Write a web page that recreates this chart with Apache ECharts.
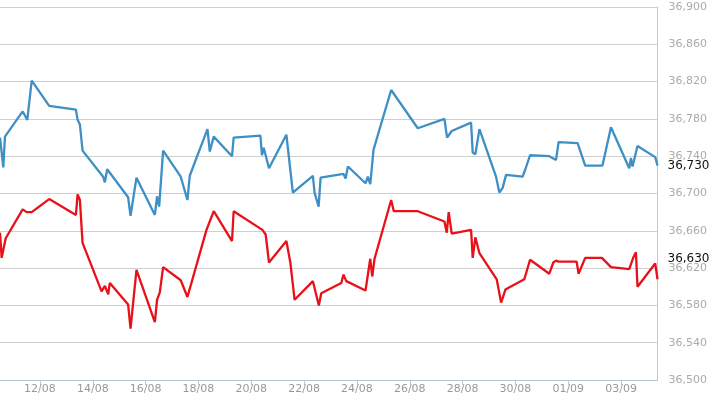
<!DOCTYPE html>
<html>
<head>
<meta charset="utf-8">
<script src="https://cdn.jsdelivr.net/npm/echarts@6/dist/echarts.min.js"></script>
<style>
  html, body { margin: 0; padding: 0; background: #fff; }
  #main { width: 710px; height: 399px; }
</style>
</head>
<body>
<div id="main"></div>
<script>
var YEAR = '2014-';

// tick dates on the time axis
var tickDays = ['08-10', '08-12', '08-14', '08-16', '08-18', '08-20', '08-22', '08-24',
    '08-26', '08-28', '08-30', '09-01', '09-03'];

// upper (blue) series
var blueSeries = [
    ['08-10 11:42', 36760], ['08-10 14:42', 36728], ['08-10 16:12', 36761], ['08-11 08:18', 36788],
    ['08-11 12:30', 36779], ['08-11 16:30', 36821], ['08-12 08:24', 36794], ['08-13 08:40', 36790],
    ['08-13 10:12', 36779], ['08-13 12:18', 36774], ['08-13 14:42', 36746], ['08-14 09:24', 36718],
    ['08-14 11:00', 36712], ['08-14 13:06', 36726], ['08-15 08:06', 36696], ['08-15 10:18', 36676],
    ['08-15 15:42', 36717], ['08-16 08:24', 36677], ['08-16 10:24', 36697], ['08-16 12:18', 36686],
    ['08-16 15:54', 36746], ['08-17 07:54', 36718], ['08-17 14:00', 36693], ['08-17 16:06', 36719],
    ['08-18 08:12', 36769], ['08-18 10:18', 36745], ['08-18 13:54', 36761], ['08-19 06:30', 36740],
    ['08-19 08:00', 36760], ['08-20 08:18', 36762], ['08-20 09:42', 36741], ['08-20 11:18', 36749],
    ['08-20 16:06', 36727], ['08-21 07:54', 36763], ['08-21 13:48', 36701], ['08-22 08:00', 36719],
    ['08-22 09:30', 36701], ['08-22 13:12', 36686], ['08-22 15:00', 36717], ['08-23 11:48', 36721],
    ['08-23 13:42', 36716], ['08-23 15:48', 36729], ['08-24 07:48', 36711], ['08-24 09:54', 36718],
    ['08-24 12:06', 36710], ['08-24 15:06', 36747], ['08-25 07:06', 36811], ['08-26 07:18', 36770],
    ['08-27 07:30', 36780], ['08-27 09:54', 36760], ['08-27 14:06', 36767], ['08-28 07:42', 36776],
    ['08-28 09:12', 36744], ['08-28 11:36', 36742], ['08-28 15:18', 36769], ['08-29 06:24', 36718],
    ['08-29 09:24', 36701], ['08-29 12:24', 36706], ['08-29 15:30', 36720], ['08-30 06:36', 36718],
    ['08-30 09:00', 36726], ['08-30 13:18', 36741], ['08-31 06:48', 36740], ['08-31 12:54', 36736],
    ['08-31 15:12', 36755], ['09-01 08:30', 36754], ['09-01 15:24', 36730], ['09-02 07:06', 36730],
    ['09-02 14:48', 36771], ['09-03 07:24', 36727], ['09-03 08:54', 36738], ['09-03 10:24', 36729],
    ['09-03 14:54', 36751], ['09-04 07:00', 36739], ['09-04 09:06', 36730]
];

// lower (red) series
var redSeries = [
    ['08-10 11:42', 36658], ['08-10 13:12', 36631], ['08-10 14:42', 36629], ['08-10 16:54', 36652],
    ['08-11 08:18', 36683], ['08-11 11:54', 36680], ['08-11 16:30', 36680], ['08-12 08:24', 36694],
    ['08-13 08:40', 36677], ['08-13 10:12', 36699], ['08-13 12:18', 36693], ['08-13 14:42', 36647],
    ['08-14 08:00', 36595], ['08-14 11:00', 36601], ['08-14 14:00', 36592], ['08-14 15:30', 36604],
    ['08-15 08:06', 36581], ['08-15 10:18', 36555], ['08-15 15:42', 36618], ['08-16 08:24', 36562],
    ['08-16 10:24', 36586], ['08-16 12:54', 36594], ['08-16 15:54', 36621], ['08-17 07:54', 36607],
    ['08-17 14:00', 36589], ['08-18 07:18', 36661], ['08-18 13:54', 36681], ['08-19 06:30', 36649],
    ['08-19 08:00', 36681], ['08-20 10:06', 36661], ['08-20 13:06', 36656], ['08-20 16:06', 36626],
    ['08-21 07:54', 36649], ['08-21 11:30', 36626], ['08-21 15:24', 36586], ['08-22 08:00', 36606],
    ['08-22 13:24', 36580], ['08-22 15:36', 36593], ['08-23 09:48', 36604], ['08-23 11:48', 36613],
    ['08-23 14:18', 36606], ['08-24 07:48', 36596], ['08-24 12:06', 36630], ['08-24 13:54', 36611],
    ['08-24 16:00', 36630], ['08-25 07:06', 36693], ['08-25 09:30', 36681], ['08-26 07:18', 36681],
    ['08-27 07:30', 36670], ['08-27 09:36', 36658], ['08-27 11:24', 36680], ['08-27 14:06', 36657],
    ['08-28 07:42', 36661], ['08-28 09:12', 36631], ['08-28 11:36', 36653], ['08-28 15:18', 36636],
    ['08-29 07:00', 36608], ['08-29 11:00', 36583], ['08-29 14:54', 36597], ['08-30 08:06', 36608],
    ['08-30 13:18', 36629], ['08-31 06:48', 36614], ['08-31 10:24', 36626], ['08-31 12:54', 36628],
    ['08-31 15:12', 36627], ['09-01 07:36', 36627], ['09-01 09:24', 36614], ['09-01 15:24', 36631],
    ['09-02 06:36', 36631], ['09-02 14:48', 36621], ['09-03 07:24', 36619], ['09-03 11:00', 36631],
    ['09-03 13:30', 36637], ['09-03 14:54', 36600], ['09-04 07:00', 36625], ['09-04 09:06', 36608]
];

// last prices shown on the right axis
var lastPrices = [36730, 36630];
var lineColors = ['#3d8fc6', '#e8111a'];

var xMin = '08-10 11:42';
var xMax = '09-04 09:06';

function toTime(s) {
    return echarts.number.parseDate(YEAR + s).getTime();
}
function fmt(v) {
    return String(Math.round(v)).replace(/\B(?=(\d{3})+(?!\d))/g, ',');
}

var chartDom = document.getElementById('main');
var myChart = echarts.init(chartDom, null, { renderer: 'canvas' });
var tickValues = tickDays.map(toTime);
var FONT = 'DejaVu Sans, Verdana, sans-serif';

function makeSeries(data, idx) {
    return {
        type: 'line',
        data: data.map(function (p) { return [toTime(p[0]), p[1]]; }),
        showSymbol: false,
        symbol: 'none',
        animation: false,
        clip: false,
        lineStyle: { color: lineColors[idx], width: 2.3 },
        itemStyle: { color: lineColors[idx] },
        markLine: {
            silent: true,
            symbol: 'none',
            animation: false,
            lineStyle: { color: 'transparent', width: 0 },
            label: {
                show: true,
                position: 'end',
                distance: 10,
                color: '#111',
                fontSize: 12,
                fontFamily: FONT,
                formatter: function () { return fmt(lastPrices[idx]); }
            },
            data: [{ yAxis: lastPrices[idx] }]
        }
    };
}

var option = {
    backgroundColor: '#fff',
    animation: false,
    grid: { left: 0, right: 52, top: 7, bottom: 19, containLabel: false },
    xAxis: {
        type: 'time',
        min: toTime(xMin),
        max: toTime(xMax),
        axisLine: { show: true, lineStyle: { color: '#b8c4d0', width: 1 } },
        axisTick: {
            show: true,
            length: 5,
            inside: false,
            customValues: tickValues,
            lineStyle: { color: '#b8c4d0' }
        },
        axisLabel: {
            customValues: tickValues,
            showMinLabel: true,
            hideOverlap: false,
            color: '#999',
            fontSize: 11,
            fontFamily: FONT,
            margin: 4,
            formatter: '{dd}/{MM}'
        },
        splitLine: { show: false }
    },
    yAxis: {
        type: 'value',
        position: 'right',
        min: 36500,
        max: 36900,
        interval: 40,
        axisLine: { show: true, lineStyle: { color: '#c8c8c8' } },
        axisTick: { show: false },
        axisLabel: {
            color: '#aaa',
            fontSize: 11,
            fontFamily: FONT,
            margin: 11,
            formatter: fmt
        },
        splitLine: { show: true, lineStyle: { color: '#cfcfcf', width: 1 } }
    },
    series: [makeSeries(blueSeries, 0), makeSeries(redSeries, 1)]
};

option && myChart.setOption(option);
</script>
</body>
</html>
